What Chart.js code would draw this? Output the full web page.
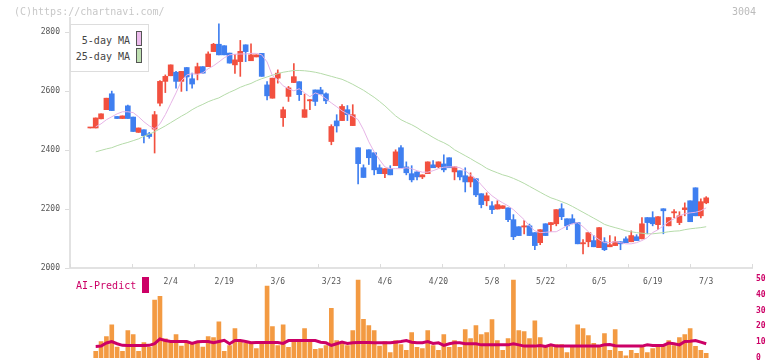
<!DOCTYPE html>
<html>
<head>
<meta charset="utf-8">
<script src="https://cdn.jsdelivr.net/npm/chart.js@4.4.1/dist/chart.umd.min.js"></script>
<style>
  body { margin: 0; background: #fff; }
  #wrap { position: relative; width: 772px; height: 361px; overflow: hidden; font-family: "DejaVu Sans Mono", monospace; }
  canvas { position: absolute; left: 0; }
  #main { top: 0; }
  #vol { top: 270px; }
  .txt { position: absolute; white-space: nowrap; font-size: 10px; line-height: 12px; }
  #legend { position: absolute; left: 70px; top: 24px; width: 77px; height: 46px; border: 1px solid #ddd; background: #fff; }
  #legend .lbl { position: absolute; left: 0; width: 59px; text-align: right; color: #444; font-size: 10px; line-height: 12px; }
  #legend .sw { position: absolute; left: 65px; width: 4px; height: 13px; border: 1px solid #555; }
</style>
</head>
<body>
<div id="wrap">
  <canvas id="main" width="772" height="300"></canvas>
  <canvas id="vol" width="772" height="100"></canvas>
  <div class="txt" style="left:14px; top:6px; color:#c8c8c8;">(C)https://chartnavi.com/</div>
  <div class="txt" style="left:732px; top:6px; color:#bbb;">3004</div>
  <div id="legend">
    <div class="lbl" style="top:10px;">5-day MA</div>
    <div class="sw" style="top:6px; background:#ecbbec;"></div>
    <div class="lbl" style="top:26px;">25-day MA</div>
    <div class="sw" style="top:23px; background:#bfe0b2;"></div>
  </div>
  <div class="txt" style="left:76px; top:280px; color:#cc0066;">AI-Predict</div>
  <div style="position:absolute; left:142px; top:277px; width:7px; height:16px; background:#cc0066;"></div>
</div>
<script>
    "use strict";

    // tick labels
    var labelDays = [15, 25, 35, 45, 55, 65, 75, 85, 95, 105, 115];
    var labelText = ['2/4', '2/19', '3/6', '3/23', '4/6', '4/20', '5/8', '5/22', '6/5', '6/19', '7/3'];
    var priceTicks = [2000, 2200, 2400, 2600, 2800];

    // daily prices
    var opens = [2475,2475,2506,2537,2591,2514,2507,2550,2512,2460,
        2469,2455,2471,2559,2633,2652,2664,2633,2680,2642,
        2659,2683,2683,2734,2759,2754,2729,2689,2700,2757,
        2703,2716,2728,2621,2576,2644,2510,2582,2629,2632,
        2511,2567,2604,2604,2591,2429,2499,2500,2537,2483,
        2408,2340,2401,2391,2340,2320,2337,2347,2408,2343,
        2320,2326,2309,2320,2350,2343,2353,2374,2326,2330,
        2313,2292,2303,2252,2228,2211,2200,2202,2204,2164,
        2140,2139,2143,2120,2086,2150,2147,2150,2201,2167,
        2167,2154,2082,2089,2093,2069,2089,2072,2076,2089,
        2099,2089,2106,2099,2171,2171,2147,2201,2143,2187,
        2154,2198,2228,2272,2177,2221];
    var closes = [2475,2509,2523,2576,2534,2507,2516,2507,2463,2475,
        2449,2446,2520,2633,2650,2689,2633,2667,2648,2624,
        2683,2661,2726,2759,2723,2723,2695,2706,2735,2734,
        2723,2723,2650,2584,2644,2661,2537,2611,2649,2588,
        2537,2571,2565,2590,2567,2480,2482,2548,2520,2520,
        2354,2307,2374,2333,2320,2337,2316,2394,2340,2323,
        2299,2309,2316,2360,2340,2360,2333,2340,2343,2309,
        2292,2309,2248,2215,2245,2198,2215,2211,2164,2106,
        2110,2143,2110,2076,2130,2110,2154,2198,2174,2143,
        2150,2082,2086,2120,2072,2137,2062,2079,2089,2082,
        2086,2110,2093,2150,2154,2150,2174,2194,2171,2191,
        2177,2204,2157,2177,2225,2238];
    var highs = [2475,2509,2523,2576,2600,2514,2516,2553,2512,2475,
        2469,2460,2531,2636,2655,2689,2667,2667,2680,2661,
        2695,2683,2733,2762,2828,2754,2729,2725,2772,2757,
        2760,2723,2728,2632,2644,2672,2546,2616,2693,2632,
        2590,2571,2604,2613,2594,2486,2520,2554,2551,2554,
        2408,2350,2401,2391,2350,2337,2347,2401,2415,2360,
        2347,2326,2316,2360,2364,2360,2384,2374,2343,2330,
        2340,2323,2303,2252,2255,2225,2228,2211,2204,2181,
        2140,2161,2149,2120,2130,2150,2154,2198,2218,2167,
        2181,2154,2096,2120,2110,2137,2103,2110,2106,2089,
        2106,2126,2113,2171,2171,2191,2174,2201,2171,2198,
        2191,2221,2228,2272,2235,2242];
    var lows = [2475,2475,2506,2537,2534,2507,2507,2507,2463,2460,
        2424,2440,2390,2550,2595,2652,2610,2599,2601,2610,
        2638,2661,2683,2734,2723,2723,2695,2660,2650,2700,
        2703,2716,2650,2570,2576,2627,2480,2565,2629,2568,
        2511,2537,2551,2590,2557,2418,2461,2500,2500,2483,
        2285,2307,2351,2316,2320,2306,2316,2347,2340,2316,
        2292,2299,2303,2320,2340,2340,2326,2340,2299,2299,
        2258,2275,2242,2204,2211,2184,2200,2202,2157,2096,
        2110,2116,2110,2062,2079,2110,2123,2143,2164,2130,
        2150,2082,2048,2072,2072,2069,2059,2072,2076,2062,
        2086,2089,2093,2099,2116,2143,2130,2116,2143,2171,
        2147,2177,2157,2177,2170,2218];

    // moving averages
    var ma5 = [null,2479,2489,2503,2513,2523,2530,2530,2527,2513,
        2496,2482,2472,2489,2520,2557,2594,2635,2655,2659,
        2657,2662,2676,2686,2699,2713,2723,2725,2726,2726,
        2728,2728,2723,2699,2652,2638,2618,2608,2601,2608,
        2594,2581,2594,2587,2574,2560,2547,2533,2523,2515,
        2503,2469,2428,2394,2367,2343,2337,2337,2337,2340,
        2337,2330,2325,2325,2330,2337,2342,2343,2343,2340,
        2330,2316,2303,2282,2262,2245,2232,2221,2211,2198,
        2181,2164,2143,2126,2120,2121,2123,2123,2133,2143,
        2150,2154,2140,2123,2109,2096,2086,2086,2089,2086,
        2082,2082,2086,2093,2103,2120,2130,2143,2157,2167,
        2177,2184,2187,2189,2194,2204];
    var ma25 = [null,2394,2399,2404,2408,2415,2421,2426,2432,2438,
        2447,2454,2462,2472,2482,2493,2504,2515,2525,2537,
        2547,2555,2564,2571,2577,2587,2596,2604,2613,2620,
        2626,2635,2642,2648,2654,2659,2664,2667,2670,2670,
        2669,2667,2664,2660,2655,2650,2645,2640,2632,2623,
        2613,2603,2591,2579,2565,2550,2533,2516,2503,2494,
        2486,2476,2464,2454,2443,2433,2425,2415,2401,2391,
        2381,2371,2360,2350,2338,2330,2323,2316,2311,2304,
        2296,2287,2277,2267,2257,2247,2238,2232,2225,2218,
        2209,2199,2189,2179,2169,2159,2148,2142,2137,2132,
        2126,2123,2120,2118,2116,2116,2118,2120,2123,2125,
        2126,2130,2133,2135,2137,2140];

    // lower panel
    var volume = [null,4.2,10.4,13.5,21,6.9,4.2,17.3,14.8,4.2,
        9.8,6.7,36.5,39,12.1,10.4,14.8,7.5,10.4,9.2,
        10.4,6.9,13.5,12.9,22.9,4.2,7.9,18.5,10.4,9.2,
        9.8,6,10.4,45.4,19.8,7.9,21,6.7,10.4,10.4,
        18.5,10.4,5.4,6,7.9,31.3,11,9.6,7.9,17.3,
        49.2,24.4,20.4,17.3,7.5,10.4,3.5,11,8.5,4.8,
        16,6.7,6,17.3,7.9,4.8,14.8,6.7,11,6.7,
        17.9,12.3,20.4,14.8,16,24.2,11,4.8,12.3,49.2,
        17.3,16.7,12.3,23.5,12.9,7.9,8.5,8.5,8.5,3.5,
        6.7,21,18.5,14.2,9.2,7.9,15.4,4.8,17.9,4.2,
        1.3,4.8,2.9,7.3,3.5,6,7.9,7.3,11,7.9,
        12.9,14.8,18.5,7.3,4.8,2.9];
    var aiPredict = [null,7.3,7.5,9.5,10.4,9,8,7.9,7.9,7.9,
        7.9,8,9,12,11,10.4,10.4,10.4,10.4,9.2,
        10.2,10.4,10.4,9.6,10.4,11.2,9,11,11,10.4,
        9.6,9.8,9.8,9.8,9.8,9.8,9.2,11,11,11,
        11,11,11,10,9.6,7.9,9,10,9.2,9.6,
        9.8,9.8,9.8,9.6,9.6,9.6,9.6,10,10.4,11,
        10,9.6,9.6,10.4,9.2,9.6,8,9,9.6,9.6,
        9,9,9,8.3,8.3,8.3,8.3,8.3,8.3,9,
        8.3,7.5,7.5,7.5,7.9,7.3,8.3,7.5,7.5,7.5,
        7.5,7.5,7.5,7.5,7.5,7.5,8.3,8.5,7.7,7.5,
        7.5,7.5,7.5,7.5,8.3,7.9,7.9,7.9,9.4,9,
        8.3,10.4,10.6,11,10,9];

    var RED = '#f2503f', BLUE = '#3f7ff0';
    var X_MIN = -3.8, X_MAX = 123.55;

    Chart.defaults.font.family = '"DejaVu Sans Mono", monospace';

    var candleColors = opens.map(function(o, i) { return closes[i] >= o ? RED : BLUE; });
    function pts(arr) { return arr.map(function(v, i) { return { x: i, y: v }; }); }

    // short upward tick marks on the price x axis
    var upTicks = {
        id: 'upTicks',
        afterDraw: function(chart) {
            var ctx = chart.ctx, a = chart.chartArea;
            ctx.save();
            ctx.strokeStyle = '#dcdcdc';
            ctx.lineWidth = 1;
            for (var k = 0; k <= 11; k++) {
                var x = Math.round(a.left + k * (a.right - a.left) / 11) + 0.5;
                ctx.beginPath();
                ctx.moveTo(x, a.bottom - 4);
                ctx.lineTo(x, a.bottom);
                ctx.stroke();
            }
            ctx.restore();
        }
    };

    // Price chart
    new Chart(document.getElementById('main'), {
        type: 'bar',
        data: {
            datasets: [{
                type: 'line', data: pts(ma5), borderColor: '#e6b3e6', borderWidth: 1,
                pointRadius: 0, order: 0
            }, {
                type: 'line', data: pts(ma25), borderColor: '#b5dba9', borderWidth: 1,
                pointRadius: 0, order: 0
            }, {
                data: lows.map(function(v, i) { return { x: i, y: [v, highs[i]] }; }),
                backgroundColor: candleColors, barThickness: 1, grouped: false, order: 2
            }, {
                data: opens.map(function(v, i) { return { x: i, y: [v, closes[i]] }; }),
                backgroundColor: candleColors, barThickness: 5, grouped: false, minBarLength: 1, order: 1
            }]
        },
        options: {
            responsive: false,
            animation: false,
            devicePixelRatio: 1,
            layout: { padding: { left: 0, right: 20, top: 18, bottom: 0 } },
            plugins: { legend: { display: false }, tooltip: { enabled: false } },
            scales: {
                x: {
                    type: 'linear', min: X_MIN, max: X_MAX, offset: false,
                    grid: { drawOnChartArea: false, drawTicks: false, offset: false },
                    border: { color: '#e2e2e2', width: 2 },
                    ticks: {
                        autoSkip: false, maxRotation: 0, padding: 9, color: '#555',
                        font: { size: 8 },
                        callback: function(v) { return labelText[labelDays.indexOf(v)]; }
                    },
                    afterBuildTicks: function(s) { s.ticks = labelDays.map(function(v) { return { value: v }; }); },
                    afterFit: function(s) { s.height = 32; }
                },
                y: {
                    type: 'linear', min: 2000, max: 2848, position: 'left',
                    grid: { drawOnChartArea: false, drawTicks: true, tickLength: 5, color: '#dcdcdc' },
                    border: { color: '#e2e2e2', width: 2 },
                    ticks: {
                        padding: 5, color: '#555', font: { size: 8 },
                        callback: function(v) { return String(v); }
                    },
                    afterBuildTicks: function(s) { s.ticks = priceTicks.map(function(v) { return { value: v }; }); },
                    afterFit: function(s) { s.width = 70; }
                }
            }
        },
        plugins: [upTicks]
    });

    // AI-Predict chart
    new Chart(document.getElementById('vol'), {
        type: 'bar',
        data: {
            datasets: [{
                type: 'line', data: pts(aiPredict), borderColor: '#cc0066', backgroundColor: '#cc0066',
                borderWidth: 3, pointRadius: 0, order: 0
            }, {
                data: pts(volume), backgroundColor: '#f39a42', barThickness: 4, order: 1
            }]
        },
        options: {
            responsive: false,
            animation: false,
            devicePixelRatio: 1,
            layout: { padding: { left: 70, right: 0, top: 8, bottom: 12 } },
            plugins: { legend: { display: false }, tooltip: { enabled: false } },
            scales: {
                x: {
                    type: 'linear', min: X_MIN, max: X_MAX, display: false, offset: false,
                    grid: { offset: false }
                },
                y: {
                    type: 'linear', min: 0, max: 50, position: 'right',
                    grid: { display: false, drawTicks: false },
                    border: { display: false },
                    ticks: { stepSize: 10, padding: 4, color: '#cc0066', font: { size: 8, weight: 'bold' } },
                    afterFit: function(s) { s.width = 20; }
                }
            }
        }
    });
</script>
</body>
</html>
